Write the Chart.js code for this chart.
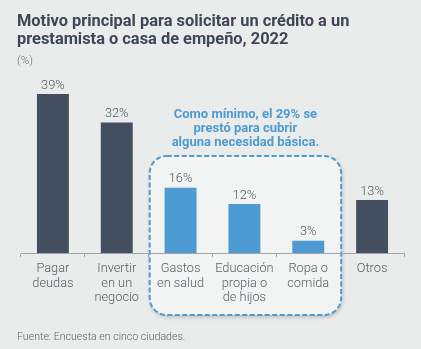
<!DOCTYPE html>
<html>
<head>
<meta charset="utf-8">
<script src="https://cdn.jsdelivr.net/npm/chart.js@4.4.1/dist/chart.umd.min.js"></script>
<style>
  html, body { margin: 0; padding: 0; background: #e9eceb; }
  #wrap { position: relative; width: 421px; height: 349px; }
  canvas { position: absolute; left: 0; top: 0; }
  .title { position: absolute; left: 17px; top: 12px; font-family: Roboto, sans-serif; font-weight: 700;
           font-size: 16.4px; line-height: 18px; color: #3d4757; }
  .unit { position: absolute; left: 17px; top: 53px; font-family: Roboto, sans-serif; font-weight: 300;
          font-size: 11.5px; color: #6a6f76; }
  .source { position: absolute; left: 17px; top: 330px; font-family: Roboto, sans-serif; font-weight: 300;
            font-size: 10.6px; color: #5c6269; }
</style>
</head>
<body>
<div id="wrap">
  <canvas id="c" width="421" height="349"></canvas>
  <div class="title">Motivo principal para solicitar un crédito a un<br>prestamista o casa de empeño, 2022</div>
  <div class="unit">(%)</div>
  <div class="source">Fuente: Encuesta en cinco ciudades.</div>
</div>
<script>
const categories = [
  ["Pagar", "deudas"],
  ["Invertir", "en un", "negocio"],
  ["Gastos", "en salud"],
  ["Educación", "propia o", "de hijos"],
  ["Ropa o", "comida"],
  ["Otros"]
];
const values = [39, 32, 16, 12, 3, 13];
const basicNeeds = [false, false, true, true, true, false];
const calloutLines = ["Como mínimo, el 29% se", "prestó para cubrir", "alguna necesidad básica."];

const DARK = "#434e5e";
const BLUE = "#4e9ad3";

function roundRect(ctx, x, y, w, h, r) {
  ctx.beginPath();
  ctx.moveTo(x + r, y);
  ctx.lineTo(x + w - r, y);
  ctx.arcTo(x + w, y, x + w, y + r, r);
  ctx.lineTo(x + w, y + h - r);
  ctx.arcTo(x + w, y + h, x + w - r, y + h, r);
  ctx.lineTo(x + r, y + h);
  ctx.arcTo(x, y + h, x, y + h - r, r);
  ctx.lineTo(x, y + r);
  ctx.arcTo(x, y, x + r, y, r);
  ctx.closePath();
}

// Dashed panel grouping the basic-needs categories, drawn behind axis and bars
const groupPanel = {
  id: "groupPanel",
  beforeDraw(chart) {
    const ctx = chart.ctx;
    const xs = chart.scales.x;
    const first = basicNeeds.indexOf(true);
    const last = basicNeeds.lastIndexOf(true);
    const half = (xs.getPixelForValue(1) - xs.getPixelForValue(0)) / 2;
    const left = xs.getPixelForValue(first) - half + 1;
    const right = xs.getPixelForValue(last) + half + 1;
    const top = 156, bottom = 315;
    ctx.save();
    ctx.shadowColor = "rgba(0,0,0,0.22)";
    ctx.shadowBlur = 4;
    ctx.shadowOffsetX = 1;
    ctx.shadowOffsetY = 2;
    roundRect(ctx, left, top, right - left, bottom - top, 17);
    ctx.fillStyle = "#f2f3f3";
    ctx.fill();
    ctx.restore();
    ctx.save();
    roundRect(ctx, left, top, right - left, bottom - top, 17);
    ctx.setLineDash([5, 2.5]);
    ctx.lineWidth = 2;
    ctx.strokeStyle = BLUE;
    ctx.stroke();
    ctx.restore();

    // callout text above the panel
    ctx.save();
    ctx.fillStyle = BLUE;
    ctx.font = "700 13px Roboto, sans-serif";
    ctx.textAlign = "center";
    ctx.textBaseline = "middle";
    const cx = (left + right) / 2;
    calloutLines.forEach((t, i) => ctx.fillText(t, cx, 114.5 + i * 14.3));
    ctx.restore();
  }
};

// Percentage labels above each bar
const valueLabels = {
  id: "valueLabels",
  afterDatasetsDraw(chart) {
    const ctx = chart.ctx;
    const meta = chart.getDatasetMeta(0);
    ctx.save();
    ctx.fillStyle = "#555b63";
    ctx.font = "300 12.8px Roboto, sans-serif";
    ctx.textAlign = "center";
    ctx.textBaseline = "middle";
    meta.data.forEach((bar, i) => {
      ctx.fillText(values[i] + "%", bar.x, bar.y - 8.5);
    });
    ctx.restore();
  }
};

new Chart(document.getElementById("c"), {
  type: "bar",
  data: {
    labels: categories,
    datasets: [{
      data: values,
      backgroundColor: basicNeeds.map(b => b ? BLUE : DARK),
      categoryPercentage: 1,
      barPercentage: 0.5
    }]
  },
  options: {
    responsive: false,
    animation: false,
    layout: { padding: { left: 21, right: 17, top: 94, bottom: 0 } },
    plugins: { legend: { display: false }, tooltip: { enabled: false } },
    scales: {
      y: { display: false, min: 0, max: 39 },
      x: {
        offset: true,
        afterFit(scale) { scale.height = 96; },
        border: { display: true, color: "#a3a6a9", width: 1 },
        grid: { display: true, drawOnChartArea: false, drawTicks: true, tickLength: 4, color: "#a3a6a9", offset: true },
        ticks: { color: "#5a6068", font: { family: "Roboto, sans-serif", size: 12.8, weight: 300, lineHeight: 1.12 }, padding: 5, maxRotation: 0, autoSkip: false }
      }
    }
  },
  plugins: [groupPanel, valueLabels]
});
</script>
</body>
</html>
